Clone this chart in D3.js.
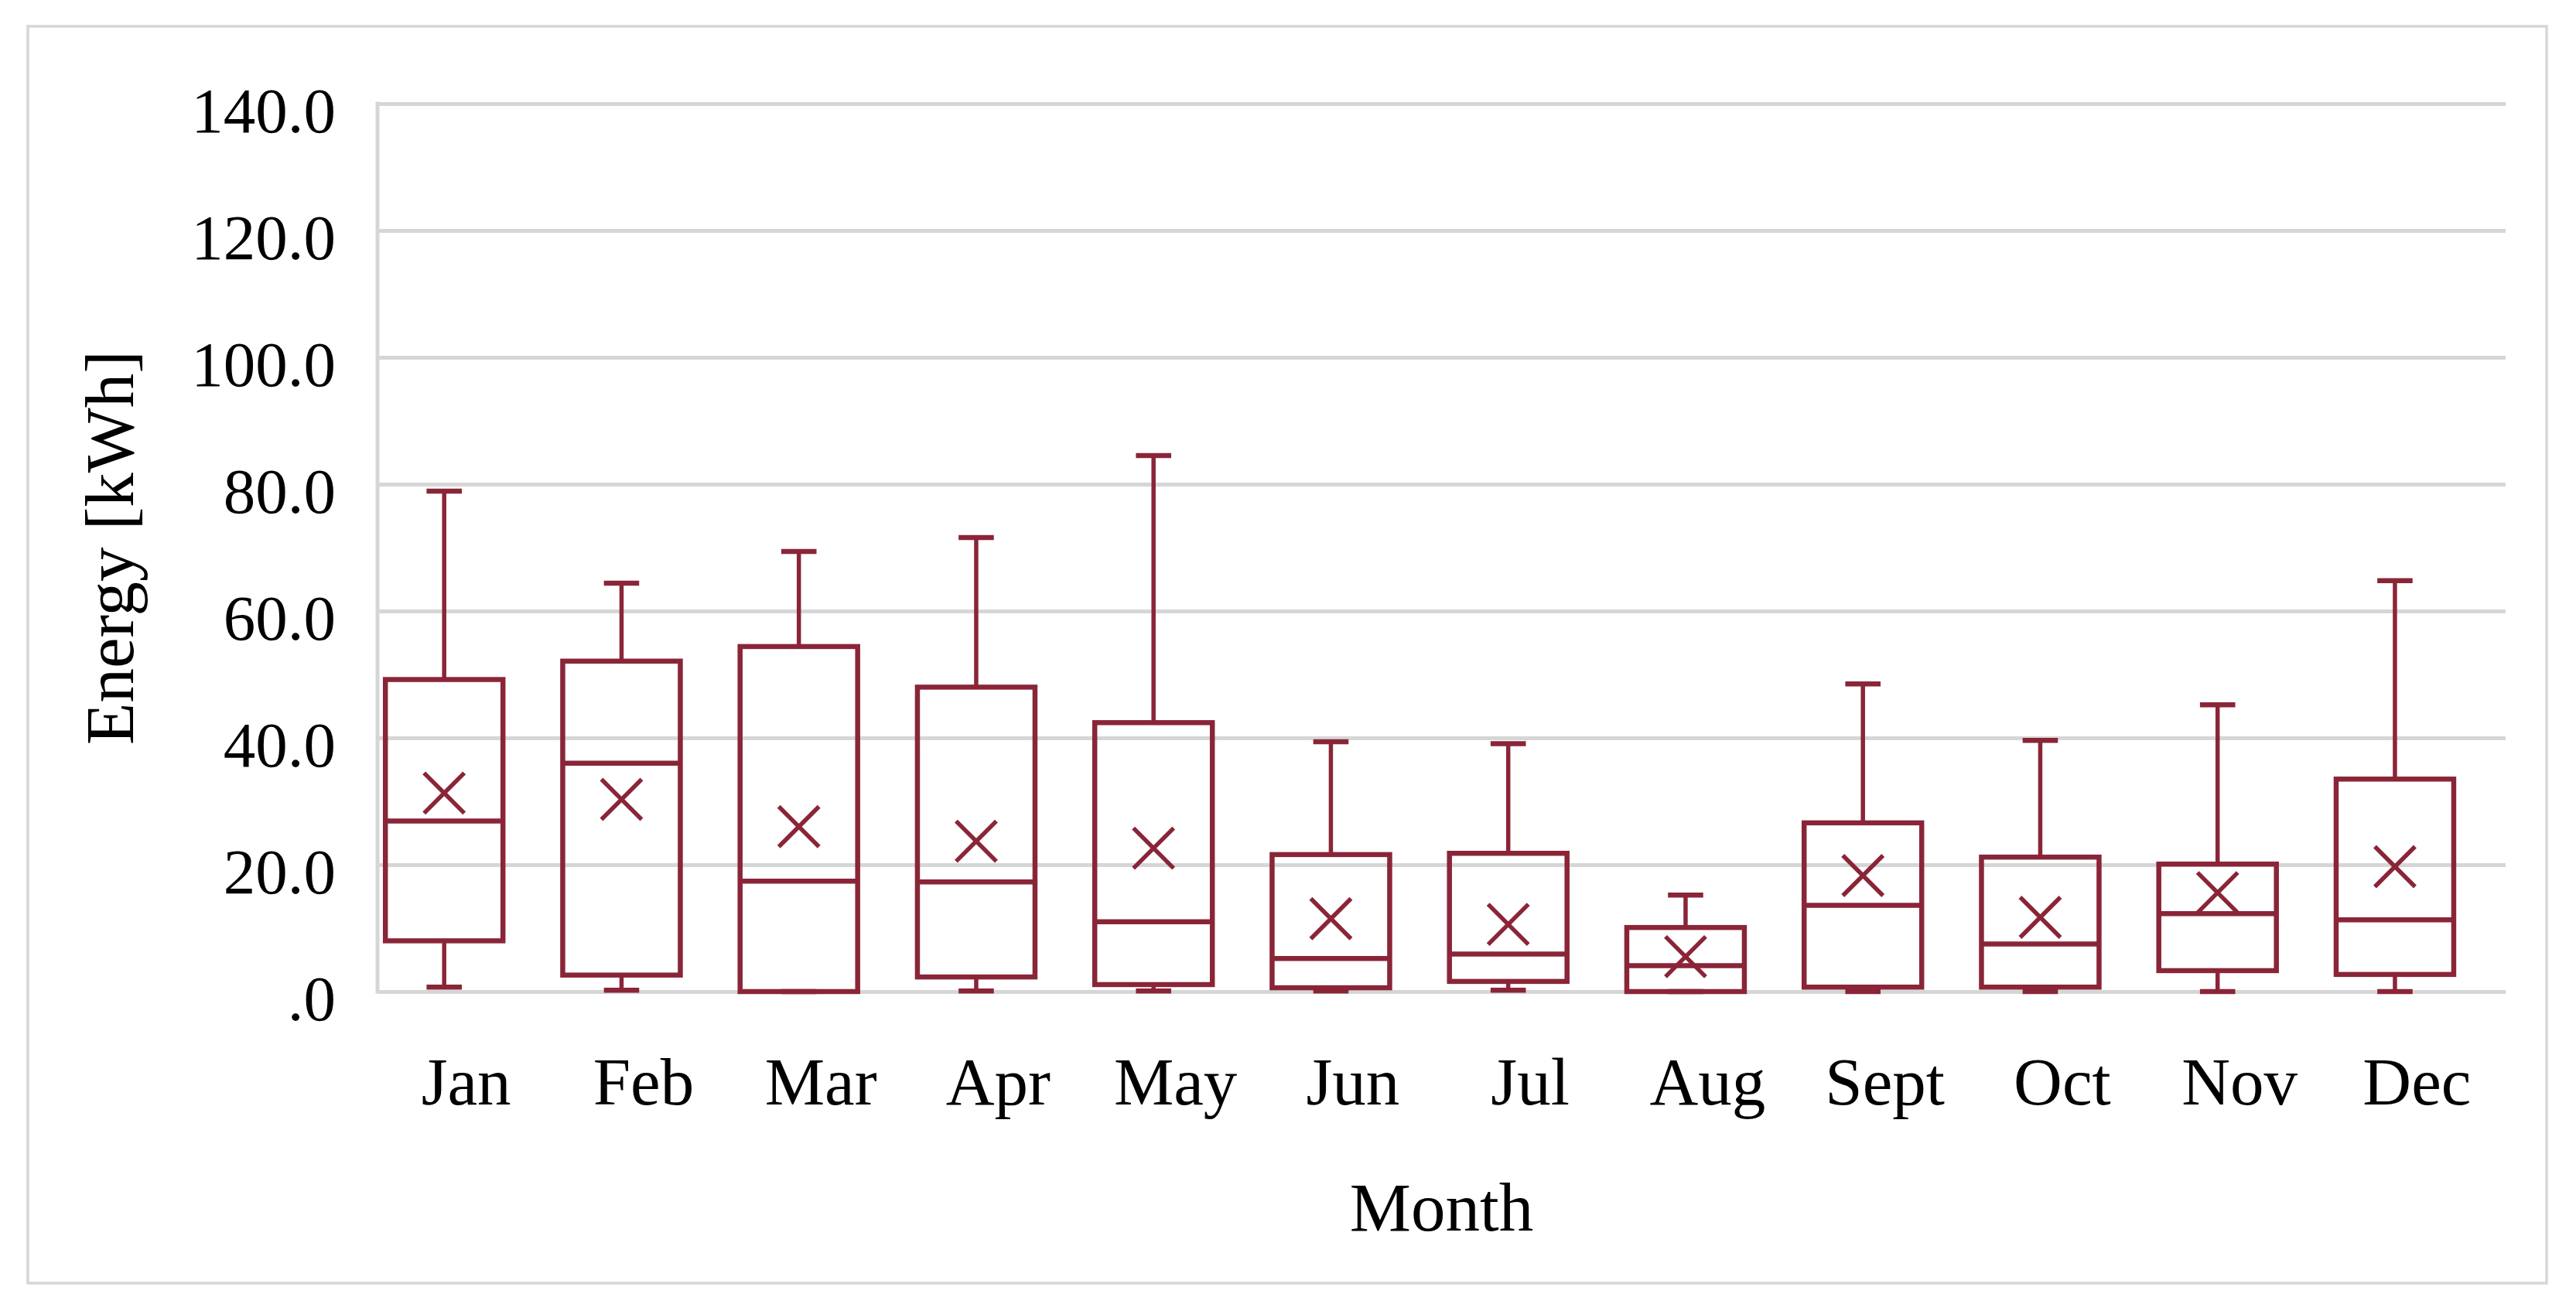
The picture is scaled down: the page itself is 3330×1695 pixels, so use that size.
<!DOCTYPE html>
<html>
<head>
<meta charset="utf-8">
<script src="https://cdn.jsdelivr.net/npm/d3@7"></script>
<style>
  html, body { margin: 0; padding: 0; background: #ffffff; }
  svg { display: block; }
  text { font-family: "Palatino Linotype", "Book Antiqua", Palatino, "Liberation Serif", serif; fill: #000; }
</style>
</head>
<body>
<svg id="chart" width="3330" height="1695"></svg>
<script>
// ---- data ----
const months = ["Jan","Feb","Mar","Apr","May","Jun","Jul","Aug","Sept","Oct","Nov","Dec"];
const whiskerMin = [0.7, 0.2, 0.0, 0.1, 0.1, 0.1, 0.2, 0.0, 0.0, 0.0, 0.0, 0.0];
const quartile1  = [8.0, 2.6, 0.0, 2.3, 1.1, 0.6, 1.6, 0.0, 0.7, 0.7, 3.3, 2.7];
const medians    = [26.9, 36.0, 17.4, 17.3, 11.0, 5.2, 5.9, 4.1, 13.6, 7.5, 12.3, 11.3];
const quartile3  = [49.2, 52.1, 54.4, 48.0, 42.4, 21.6, 21.8, 10.1, 26.6, 21.2, 20.1, 33.5];
const whiskerMax = [78.9, 64.4, 69.4, 71.6, 84.5, 39.4, 39.1, 15.2, 48.5, 39.6, 45.2, 64.8];
const means      = [31.3, 30.3, 26.0, 23.7, 22.6, 11.5, 10.6, 5.5, 18.3, 11.7, 15.6, 19.7];
const yTickValues = [0, 20, 40, 60, 80, 100, 120, 140];
const yTickLabels = [".0", "20.0", "40.0", "60.0", "80.0", "100.0", "120.0", "140.0"];
const xTitle = "Month";
const yTitle = "Energy [kWh]";

// ---- layout ----
const W = 3330, H = 1695;
const plotL = 488, plotR = 3239, plotT = 134, plotB = 1282;
const boxColor = "#8a2538";
const gridColor = "#d6d6d6";
const fontStack = "\"Palatino Linotype\", \"Book Antiqua\", Palatino, \"Liberation Serif\", serif";

const svg = d3.select("#chart");
svg.append("rect").attr("x", 0).attr("y", 0).attr("width", W).attr("height", H).attr("fill", "#fff");
// outer chart border
svg.append("rect").attr("x", 36).attr("y", 34).attr("width", 3256).attr("height", 1625)
  .attr("fill", "none").attr("stroke", gridColor).attr("stroke-width", 3.5);

const x = d3.scaleBand().domain(months).range([plotL, plotR]).paddingInner(0).paddingOuter(0);
const y = d3.scaleLinear().domain([0, 140]).range([plotB, plotT]);

// y axis with gridlines
const yAxis = d3.axisLeft(y)
  .tickValues(yTickValues)
  .tickFormat((d, i) => yTickLabels[i])
  .tickSize(-(plotR - plotL))
  .tickPadding(54);
const gy = svg.append("g").attr("transform", `translate(${plotL},0)`).call(yAxis);
gy.select(".domain").remove();
gy.selectAll(".tick line").attr("stroke", gridColor).attr("stroke-width", 5);
gy.selectAll(".tick text")
  .attr("dy", "0.44em")
  .style("font-size", "83px")
  .style("font-family", fontStack)
  .attr("fill", "#000");

// left vertical axis line
svg.append("line").attr("x1", plotL).attr("x2", plotL).attr("y1", y(140) - 2.5).attr("y2", y(0) + 2.5)
  .attr("stroke", gridColor).attr("stroke-width", 5);

// x axis labels
const xAxis = d3.axisBottom(x).tickSize(0).tickPadding(84);
const gx = svg.append("g").attr("transform", `translate(0,${plotB})`).call(xAxis);
gx.select(".domain").remove();
gx.selectAll(".tick text")
  .style("font-size", "87px")
  .style("font-family", fontStack)
  .attr("fill", "#000");

// boxes
const bw = x.bandwidth();
const boxW = bw * 0.663;
const capW = boxW * 0.3;
const centerOf = m => x(m) + bw * 0.376;
const mk = 26; // half size of mean marker

const data = months.map((m, i) => ({
  m, min: whiskerMin[i], q1: quartile1[i], med: medians[i], q3: quartile3[i], max: whiskerMax[i], mean: means[i]
}));

const g = svg.append("g").attr("stroke", boxColor).attr("fill", "none");
const box = g.selectAll("g.box").data(data).join("g").attr("class", "box");

// upper whisker
box.append("line")
  .attr("x1", d => centerOf(d.m)).attr("x2", d => centerOf(d.m))
  .attr("y1", d => y(d.q3)).attr("y2", d => y(d.max)).attr("stroke-width", 5.5);
box.append("line")
  .attr("x1", d => centerOf(d.m) - capW / 2).attr("x2", d => centerOf(d.m) + capW / 2)
  .attr("y1", d => y(d.max)).attr("y2", d => y(d.max)).attr("stroke-width", 6.5);
// lower whisker
box.append("line")
  .attr("x1", d => centerOf(d.m)).attr("x2", d => centerOf(d.m))
  .attr("y1", d => y(d.q1)).attr("y2", d => y(d.min)).attr("stroke-width", 5.5);
box.append("line")
  .attr("x1", d => centerOf(d.m) - capW / 2).attr("x2", d => centerOf(d.m) + capW / 2)
  .attr("y1", d => y(d.min)).attr("y2", d => y(d.min)).attr("stroke-width", 6.5);
// box
box.append("rect")
  .attr("x", d => centerOf(d.m) - boxW / 2)
  .attr("y", d => y(d.q3))
  .attr("width", boxW)
  .attr("height", d => y(d.q1) - y(d.q3))
  .attr("stroke-width", 6.5);
// median
box.append("line")
  .attr("x1", d => centerOf(d.m) - boxW / 2).attr("x2", d => centerOf(d.m) + boxW / 2)
  .attr("y1", d => y(d.med)).attr("y2", d => y(d.med)).attr("stroke-width", 6.5);
// mean marker (X)
box.append("path")
  .attr("d", d => {
    const cx = centerOf(d.m), cy = y(d.mean);
    return `M${cx - mk},${cy - mk}L${cx + mk},${cy + mk}M${cx - mk},${cy + mk}L${cx + mk},${cy - mk}`;
  })
  .attr("stroke-width", 5.5);

// axis titles
svg.append("text")
  .attr("x", (plotL + plotR) / 2).attr("y", 1591)
  .attr("text-anchor", "middle")
  .style("font-size", "89px")
  .text(xTitle);
svg.append("text")
  .attr("transform", `translate(172,708) rotate(-90)`)
  .attr("text-anchor", "middle")
  .style("font-size", "89px")
  .text(yTitle);
</script>
</body>
</html>
